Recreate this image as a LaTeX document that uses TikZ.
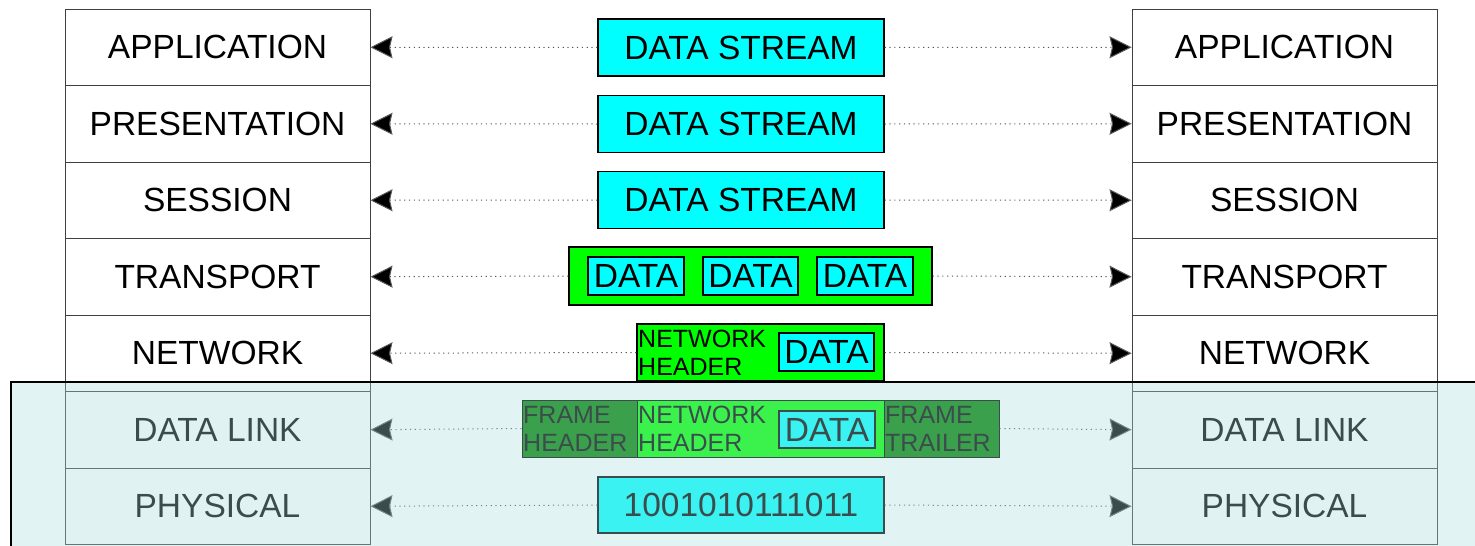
\documentclass[tikz,border=0pt]{standalone}
\usepackage{fontspec}
\setmainfont{Liberation Sans}
\usetikzlibrary{arrows.meta}
\definecolor{cya}{RGB}{0,255,255}
\definecolor{lime}{RGB}{0,255,0}
\definecolor{dgreen}{RGB}{0,128,0}
\definecolor{ovl}{RGB}{170,220,220}
\tikzset{
  layer/.style={draw=black!75, line width=1pt, fill=white, minimum width=305pt, minimum height=76.5pt, inner sep=0pt, font=\fontsize{33.5}{36}\selectfont},
  pdu/.style={draw=black, line width=1.3pt, inner sep=0pt, font=\fontsize{33.5}{36}\selectfont},
  conn/.style={draw=black!65, line width=1pt, dash pattern=on 1.2pt off 3.6pt, -{Stealth[length=22pt,width=22pt,inset=2.5pt,fill=black]}},
  small/.style={font=\fontsize{25}{28}\selectfont, align=left, inner sep=0pt}
}
\begin{document}
\begin{tikzpicture}[x=1pt,y=-1pt]
\useasboundingbox (0,0) rectangle (1475,546);
% left stack
\node[layer] (la) at (217.5,47.25) {APPLICATION};
\node[layer] (lp) at (217.5,123.75) {PRESENTATION};
\node[layer] (ls) at (217.5,200.25) {SESSION};
\node[layer] (lt) at (217.5,276.75) {TRANSPORT};
\node[layer] (ln) at (217.5,353.25) {NETWORK};
\node[layer] (ld) at (217.5,429.75) {DATA LINK};
\node[layer] (lh) at (217.5,506.25) {PHYSICAL};
% right stack
\node[layer] (ra) at (1284.5,47.25) {APPLICATION};
\node[layer] (rp) at (1284.5,123.75) {PRESENTATION};
\node[layer] (rs) at (1284.5,200.25) {SESSION};
\node[layer] (rt) at (1284.5,276.75) {TRANSPORT};
\node[layer] (rn) at (1284.5,353.25) {NETWORK};
\node[layer] (rd) at (1284.5,429.75) {DATA LINK};
\node[layer] (rh) at (1284.5,506.25) {PHYSICAL};
% data stream boxes
\node[pdu, fill=cya, minimum width=286pt, minimum height=57pt] (d1) at (741,47.5) {DATA STREAM};
\node[pdu, fill=cya, minimum width=286pt, minimum height=57pt] (d2) at (741,124) {DATA STREAM};
\node[pdu, fill=cya, minimum width=286pt, minimum height=57pt] (d3) at (741,200) {DATA STREAM};
% transport
\node[pdu, fill=lime, minimum width=363pt, minimum height=58pt] (tr) at (750.5,276) {};
\node[pdu, fill=cya, minimum width=96pt, minimum height=38pt] (t1) at (636,276) {DATA};
\node[pdu, fill=cya, minimum width=95pt, minimum height=38pt] (t2) at (750.5,276) {DATA};
\node[pdu, fill=cya, minimum width=96pt, minimum height=38pt] (t3) at (865,276) {DATA};
% network
\node[pdu, fill=lime, minimum width=247pt, minimum height=57pt] (nw) at (760.5,352.5) {};
\node[small, anchor=west] (nwh) at (638,353) {NETWORK\\HEADER};
\node[pdu, fill=cya, minimum width=95pt, minimum height=38pt] (nd) at (826.5,352) {DATA};
% data link
\node[pdu, line width=1pt, fill=dgreen, minimum width=115pt, minimum height=57pt] (fh) at (579.5,428.5) {};
\node[pdu, line width=1pt, fill=lime, minimum width=247pt, minimum height=57pt] (nh) at (760.5,428.5) {};
\node[pdu, line width=1pt, fill=dgreen, minimum width=115pt, minimum height=57pt] (ft) at (941.5,428.5) {};
\node[small, anchor=west] (fht) at (523,429) {FRAME\\HEADER};
\node[small, anchor=west] (nht) at (638,429) {NETWORK\\HEADER};
\node[small, anchor=west] (ftt) at (885,429) {FRAME\\TRAILER};
\node[pdu, fill=cya, minimum width=96pt, minimum height=37pt] (dd) at (827,429.5) {DATA};
% physical
\node[pdu, fill=cya, minimum width=286pt, minimum height=56pt] (ph) at (741,505) {1001010111011};
% connectors
\draw[conn] (d1.west) -- (la.east);
\draw[conn] (d1.east) -- (ra.west);
\draw[conn] (d2.west) -- (lp.east);
\draw[conn] (d2.east) -- (rp.west);
\draw[conn] (d3.west) -- (ls.east);
\draw[conn] (d3.east) -- (rs.west);
\draw[conn] (tr.west) -- (lt.east);
\draw[conn] (tr.east) -- (rt.west);
\draw[conn] (nw.west) -- (ln.east);
\draw[conn] (nw.east) -- (rn.west);
\draw[conn] (fh.west) -- (ld.east);
\draw[conn] (ft.east) -- (rd.west);
\draw[conn] (ph.west) -- (lh.east);
\draw[conn] (ph.east) -- (rh.west);
% translucent overlay
\fill[ovl, fill opacity=0.35] (11,382) rectangle (1480,550);
\draw[black, line width=2pt] (1480,382) -- (11,382) -- (11,550);
\end{tikzpicture}
\end{document}
